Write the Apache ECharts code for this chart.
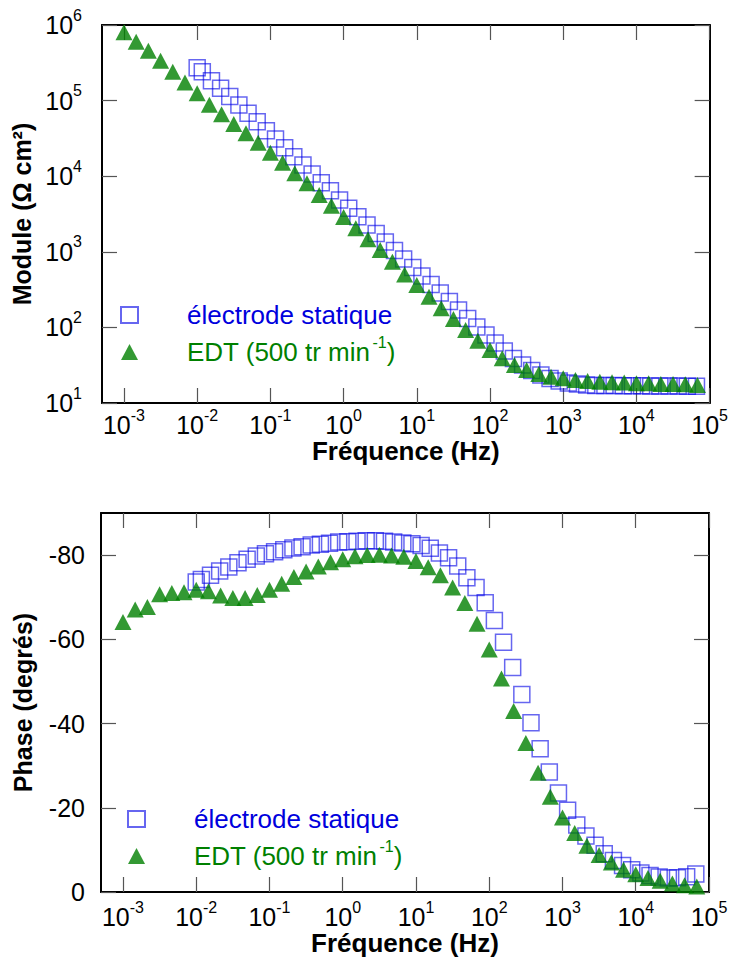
<!DOCTYPE html>
<html><head><meta charset="utf-8">
<script src="https://cdn.jsdelivr.net/npm/echarts@6/dist/echarts.min.js"></script>
<style>html,body{margin:0;padding:0;background:#fff}#c{width:731px;height:971px}</style>
</head><body><div id="c"></div>
<script>
// ---- data (frequencies in Hz) ----
const seriesNames = ['électrode statique', 'EDT (500 tr min-1)'];
const freqStatique = [0.01, 0.01175, 0.01567, 0.02089, 0.02786, 0.03715, 0.04955, 0.06607, 0.0881,
  0.1175, 0.1567, 0.2089, 0.2786, 0.3715, 0.4955, 0.6607, 0.881,
  1.175, 1.567, 2.089, 2.786, 3.715, 4.955, 6.607, 8.81,
  11.75, 15.67, 20.89, 27.86, 37.15, 49.55, 66.07, 88.1,
  117.5, 156.7, 208.9, 278.6, 371.5, 495.5, 660.7, 881,
  1175, 1567, 2089, 2786, 3715, 4955, 6607, 8810,
  11750, 15670, 20890, 27860, 37150, 49550, 66070];
const moduleStatique = [2.72e5, 2.41e5, 1.83e5, 1.46e5, 1.13e5, 8.75e4, 6.79e4, 5.26e4, 4.00e4,
  3.10e4, 2.38e4, 1.81e4, 1.41e4, 1.07e4, 8200, 6430, 4840,
  3760, 2910, 2260, 1750, 1350, 1040, 803, 620,
  479, 369, 285, 220, 170, 131, 101, 79.3,
  62.2, 48.8, 38.8, 31.8, 26.9, 23.4, 21.1, 19.5,
  18.4, 17.8, 17.3, 17.1, 17.0, 17.0, 16.9, 16.9,
  16.9, 16.8, 16.8, 16.8, 16.8, 16.7, 16.7];
const phaseStatique = [-73.6, -74.2, -75.2, -76.2, -77.2, -78.2, -79.0, -79.8, -80.3,
  -80.8, -81.3, -81.7, -82.0, -82.4, -82.6, -82.8, -83.1,
  -83.2, -83.3, -83.4, -83.4, -83.3, -83.1, -82.9, -82.7,
  -82.3, -81.6, -80.5, -79.4, -77.4, -74.6, -72.3, -68.7,
  -64.5, -59.3, -53.3, -46.9, -40.2, -34.0, -28.5, -23.5,
  -19.4, -15.9, -13.3, -11.1, -9.1, -7.5, -6.3, -5.3,
  -4.5, -3.9, -3.55, -3.3, -3.4, -3.6, -4.3];
const freqEDT = [0.001, 0.001468, 0.002154, 0.003162, 0.004642, 0.006813,
  0.01, 0.01468, 0.02154, 0.03162, 0.04642, 0.06813,
  0.1, 0.1468, 0.2154, 0.3162, 0.4642, 0.6813,
  1, 1.468, 2.154, 3.162, 4.642, 6.813,
  10, 14.68, 21.54, 31.62, 46.42, 68.13,
  100, 146.8, 215.4, 316.2, 464.2, 681.3,
  1000, 1468, 2154, 3162, 4642, 6813,
  10000, 14680, 21540, 31620, 46420, 68130];
const moduleEDT = [8.0e5, 6.01e5, 4.57e5, 3.37e5, 2.41e5, 1.73e5,
  1.25e5, 8.83e4, 6.59e4, 4.90e4, 3.69e4, 2.77e4,
  2.05e4, 1.51e4, 1.09e4, 8070, 5640, 4070,
  2880, 2050, 1460, 1060, 740, 501,
  364, 255, 179, 129, 92.4, 66.7,
  50.2, 39.0, 31.8, 27.4, 24.2, 22.3,
  21.2, 20.1, 19.5, 19.1, 18.8, 18.6,
  18.2, 18.2, 17.8, 17.8, 17.7, 17.3];
const phaseEDT = [-64.1, -67.1, -67.7, -70.7, -71.0, -71.2,
  -71.8, -71.4, -70.4, -69.8, -69.8, -70.5,
  -71.8, -73.2, -74.8, -76.1, -77.3, -78.3,
  -79.0, -79.7, -80.0, -80.1, -79.9, -79.6,
  -78.6, -77.1, -75.2, -72.3, -68.6, -63.7,
  -57.6, -50.7, -43.0, -35.4, -28.3, -22.6,
  -17.7, -14.0, -11.0, -8.8, -7.0, -5.3,
  -4.2, -3.3, -2.7, -2.0, -1.6, -1.3];
const xTickExponents = [-3, -2, -1, 0, 1, 2, 3, 4, 5];
const phaseTicks = [-80, -60, -40, -20, 0];

// ---- styling ----
const FONT = "'Liberation Sans', Arial, Helvetica, sans-serif";
const BLUE = '#0000dd', GREEN = '#008000';
const rich = {
  b: {fontSize: 25, lineHeight: 36, fontFamily: FONT, color: '#000'},
  s: {fontSize: 16, lineHeight: 16, verticalAlign: 'top', fontFamily: FONT, color: '#000'}
};
const pow10Label = e => '{b|10}{s|' + e + '}';
const nameStyle = {fontSize: 25, fontWeight: 'bold', fontFamily: FONT, color: '#000'};
const xNameStyle = {fontSize: 26, fontWeight: 'bold', fontFamily: FONT, color: '#000'};
const lineStyle = {color: '#000', width: 2};
const tickStyle = {color: '#555', width: 1.2};

function xAxisCfg(gridIndex, position, showLabels, margin, nameGap) {
  return {
    type: 'value', gridIndex, position, min: -3.3, max: 5,
    axisLine: {show: true, onZero: false, lineStyle},
    axisTick: {show: true, inside: true, length: 15, customValues: xTickExponents, lineStyle: tickStyle},
    axisLabel: {show: showLabels, customValues: xTickExponents, margin, hideOverlap: false,
      formatter: v => pow10Label(Math.round(v)), rich},
    splitLine: {show: false},
    name: showLabels ? 'Fréquence (Hz)' : '', nameLocation: 'middle', nameGap, nameTextStyle: xNameStyle
  };
}
function yModCfg(position, showLabels) {
  return {
    type: 'log', logBase: 10, gridIndex: 0, position, min: 10, max: 1e6, splitNumber: 5,
    axisLine: {show: true, onZero: false, lineStyle},
    axisTick: {show: true, inside: true, length: 15, lineStyle: tickStyle},
    axisLabel: {show: showLabels, margin: 20, showMinLabel: true, showMaxLabel: true,
      formatter: v => pow10Label(Math.round(Math.log10(v))), rich},
    splitLine: {show: false}, minorTick: {show: false},
    name: showLabels ? 'Module (Ω cm²)' : '', nameLocation: 'middle', nameRotate: 90, nameGap: 67,
    nameTextStyle: nameStyle
  };
}
function yPhaseCfg(position, showLabels) {
  return {
    type: 'value', gridIndex: 1, position, min: -90, max: 0, inverse: true,
    axisLine: {show: true, onZero: false, lineStyle},
    axisTick: {show: true, inside: true, length: 15, customValues: phaseTicks, lineStyle: tickStyle},
    axisLabel: {show: showLabels, customValues: phaseTicks, margin: 16, hideOverlap: false,
      formatter: v => String(v), fontSize: 25, fontFamily: FONT, color: '#000'},
    splitLine: {show: false},
    name: showLabels ? 'Phase (degrés)' : '', nameLocation: 'middle', nameRotate: 90, nameGap: 66,
    nameTextStyle: nameStyle
  };
}
const legendRich = {
  sp: {width: 44},
  bl: {fontSize: 26, lineHeight: 36, fontFamily: FONT, color: BLUE},
  gr: {fontSize: 26, lineHeight: 36, fontFamily: FONT, color: GREEN},
  grs: {fontSize: 16, lineHeight: 16, verticalAlign: 'top', fontFamily: FONT, color: GREEN, padding: [0, 0, 0, 2]}
};
function legendCfg(left, top) {
  return {
    left, top, orient: 'vertical', itemWidth: 17, itemHeight: 16, itemGap: 6, padding: 0,
    selectedMode: false, data: seriesNames,
    formatter: name => name === seriesNames[0]
      ? '{sp| }{bl|électrode statique}'
      : '{sp| }{gr|EDT (500 tr min}{grs|-1}{gr|)}',
    textStyle: {rich: legendRich}
  };
}
const toPts = (fr, vals) => fr.map((f, i) => [Math.log10(f), vals[i]]);
const squareStyle = {color: 'rgba(0,0,0,0)', borderColor: 'rgba(0,0,230,0.75)', borderWidth: 1.5};
const triStyle = {color: GREEN};

const option = {
  animation: false,
  backgroundColor: '#fff',
  grid: [
    {left: 102, top: 25, width: 608, height: 378},
    {left: 101, top: 513, width: 608, height: 379}
  ],
  xAxis: [
    xAxisCfg(0, 'bottom', true, 4, 34),
    xAxisCfg(0, 'top', false, 4, 0),
    xAxisCfg(1, 'bottom', true, 7, 38),
    xAxisCfg(1, 'top', false, 4, 0)
  ],
  yAxis: [
    yModCfg('left', true),
    yModCfg('right', false),
    yPhaseCfg('left', true),
    yPhaseCfg('right', false)
  ],
  legend: [legendCfg(120, 302), legendCfg(127, 806)],
  series: [
    {name: seriesNames[0], type: 'scatter', xAxisIndex: 0, yAxisIndex: 0, symbol: 'rect', symbolSize: 16,
      itemStyle: squareStyle, data: toPts(freqStatique, moduleStatique), z: 2, silent: true},
    {name: seriesNames[1], type: 'scatter', xAxisIndex: 0, yAxisIndex: 0, symbol: 'triangle', symbolSize: [17, 16],
      itemStyle: triStyle, data: toPts(freqEDT, moduleEDT), z: 3, silent: true},
    {name: seriesNames[0], type: 'scatter', xAxisIndex: 2, yAxisIndex: 2, symbol: 'rect', symbolSize: 16,
      itemStyle: squareStyle, data: toPts(freqStatique, phaseStatique), z: 2, silent: true},
    {name: seriesNames[1], type: 'scatter', xAxisIndex: 2, yAxisIndex: 2, symbol: 'triangle', symbolSize: [17, 16],
      itemStyle: triStyle, data: toPts(freqEDT, phaseEDT), z: 3, silent: true}
  ]
};
const chart = echarts.init(document.getElementById('c'), null, {renderer: 'svg'});
chart.setOption(option);
</script>
</body></html>
